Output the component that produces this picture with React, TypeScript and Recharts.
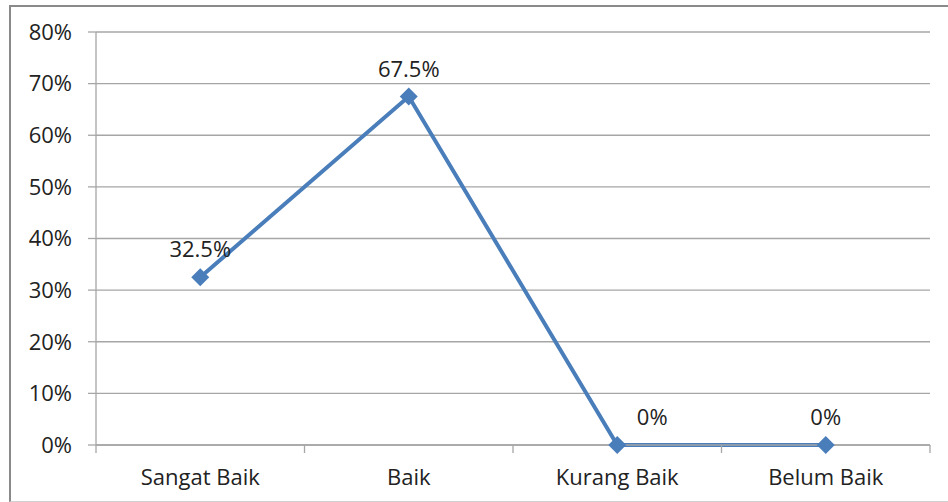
import { CartesianGrid, LabelList, Line, LineChart, XAxis, YAxis } from "recharts";

const categories = ["Sangat Baik", "Baik", "Kurang Baik", "Belum Baik"];
const values = [32.5, 67.5, 0, 0];
const labels = ["32.5%", "67.5%", "0%", "0%"];
const yTicks = [0, 10, 20, 30, 40, 50, 60, 70, 80];

const data = categories.map((c, i) => ({ name: c, value: values[i], label: labels[i] }));

const FONT = "'Open Sans', sans-serif";
const BLUE = "#4a7ebb";
const GRAY = "#a6a6a6";

const Diamond = (props: any) => {
  const { cx, cy } = props;
  if (cx == null || cy == null) return null;
  const r = 9;
  return (
    <polygon
      points={`${cx},${cy - r} ${cx + r},${cy} ${cx},${cy + r} ${cx - r},${cy}`}
      fill={BLUE}
    />
  );
};

// category label at band centre, tick marks at band edges (Excel style)
const CategoryTick = (props: any) => {
  const { x, y, payload, index, visibleTicksCount } = props;
  const half = payload && payload.offset ? payload.offset : 104.25;
  const axisY = y - 23;
  const last = index === (visibleTicksCount ?? categories.length) - 1;
  return (
    <g>
      <line x1={x - half} x2={x - half} y1={axisY} y2={axisY + 8} stroke={GRAY} strokeWidth={1.3} />
      {last && (
        <line x1={x + half} x2={x + half} y1={axisY} y2={axisY + 8} stroke={GRAY} strokeWidth={1.3} />
      )}
      <text
        x={x}
        y={axisY + 31}
        textAnchor="middle"
        dominantBaseline="central"
        fontFamily={FONT}
        fontSize={22}
        fill="#222"
      >
        {payload.value}
      </text>
    </g>
  );
};

const PointLabel = (props: any) => {
  const { x, y, value, index } = props;
  // the Kurang Baik label sits right of its point, away from the line
  const dx = index === 2 ? 35 : 0;
  return (
    <text
      x={x + dx}
      y={y - 29}
      textAnchor="middle"
      dominantBaseline="central"
      fontFamily={FONT}
      fontSize={22}
      fill="#222"
    >
      {value}
    </text>
  );
};

export default function App() {
  return (
    <div style={{ position: "absolute", left: 0, top: 0, width: 948, height: 502, background: "#fff" }}>
      <div
        style={{
          position: "absolute",
          left: 9,
          top: 5,
          width: 950,
          height: 494,
          borderLeft: "2px solid #8a8a8a",
          borderTop: "2px solid #8a8a8a",
          borderBottom: "1px solid #cfcfcf",
        }}
      />
      <div style={{ position: "absolute", left: 0, top: 0 }}>
        <LineChart
          width={948}
          height={502}
          data={data}
          margin={{ top: 32, right: 18, bottom: 27, left: 0 }}
        >
          <CartesianGrid vertical={false} stroke={GRAY} strokeWidth={1.3} />
          <XAxis
            dataKey="name"
            scale="band"
            tickLine={false}
            tickSize={0}
            tickMargin={23}
            height={30}
            axisLine={{ stroke: GRAY, strokeWidth: 1.3 }}
            tick={<CategoryTick />}
            interval={0}
          />
          <YAxis
            domain={[0, 80]}
            ticks={yTicks}
            width={96}
            tickFormatter={(v) => `${v}%`}
            tickSize={8}
            tickMargin={16}
            axisLine={{ stroke: GRAY, strokeWidth: 1.3 }}
            tickLine={{ stroke: GRAY, strokeWidth: 1.3 }}
            tick={{ fontFamily: FONT, fontSize: 22, fill: "#222" }}
          />
          <Line
            dataKey="value"
            stroke={BLUE}
            strokeWidth={4}
            dot={<Diamond />}
            activeDot={false}
            isAnimationActive={false}
          >
            <LabelList dataKey="label" content={<PointLabel />} />
          </Line>
        </LineChart>
      </div>
    </div>
  );
}
